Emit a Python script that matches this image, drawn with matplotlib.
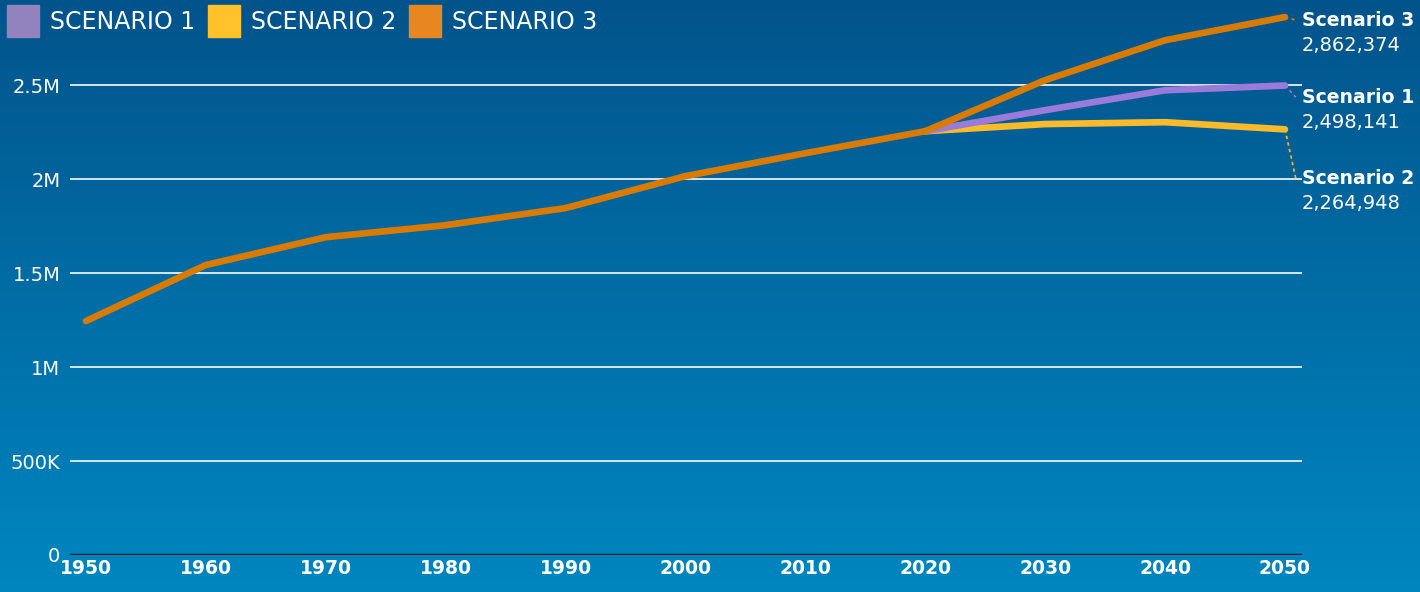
import matplotlib.pyplot as plt
import numpy as np
from matplotlib.patches import Rectangle
from matplotlib.colors import LinearSegmentedColormap

# --- Data --------------------------------------------------------------------
years_hist = [1950, 1960, 1970, 1980, 1990, 2000, 2010, 2020]
pop_hist = [1245000, 1543000, 1691000, 1755000, 1846000, 2016000, 2138000, 2255000]

years_proj = [2020, 2030, 2040, 2050]
scenario1 = [2255000, 2367000, 2473000, 2498141]
scenario2 = [2255000, 2293000, 2303000, 2264948]
scenario3 = [2255000, 2527000, 2739000, 2862374]

series_names = ["Scenario 1", "Scenario 2", "Scenario 3"]
legend_names = ["SCENARIO 1", "SCENARIO 2", "SCENARIO 3"]
line_colors = ["#9B7BD9", "#FBBA2A", "#D97B00"]
legend_colors = ["#9283BE", "#FFC22A", "#E8861F"]

y_ticks = [0, 500000, 1000000, 1500000, 2000000, 2500000]
y_tick_labels = ["0", "500K", "1M", "1.5M", "2M", "2.5M"]
x_ticks = list(range(1950, 2051, 10))

plt.rcParams['font.family'] = ['DejaVu Sans']

# --- Figure ------------------------------------------------------------------
fig = plt.figure(figsize=(14.2, 5.92), dpi=100)

# gradient background
bg = fig.add_axes([0, 0, 1, 1], zorder=0)
cmap = LinearSegmentedColormap.from_list("bg", ["#02548B", "#0086C0"])
bg.imshow(np.linspace(0, 1, 256).reshape(-1, 1), aspect='auto', cmap=cmap,
          extent=[0, 1, 0, 1], origin='upper')
bg.axis('off')

ax = fig.add_axes([70 / 1420, 37 / 592, 1232 / 1420, 545 / 592], zorder=1)
ax.patch.set_alpha(0)
ax.set_xlim(1948.67, 2051.42)
ax.set_ylim(0, 2900000)

for s in ax.spines.values():
    s.set_visible(False)

for yt in y_ticks[1:]:
    ax.axhline(yt, color='white', lw=1.3, alpha=0.9, zorder=1)
ax.axhline(0, color='#1a1a1a', lw=2.4, zorder=2)

ax.set_yticks(y_ticks)
ax.set_yticklabels(y_tick_labels, color='white', fontsize=14)
ax.set_xticks(x_ticks)
ax.set_xticklabels([str(x) for x in x_ticks], color='white', fontsize=13.5,
                   fontweight='bold')
ax.tick_params(axis='both', length=0, pad=3)
ax.tick_params(axis='y', pad=7)

# projection lines, scenario 3 on top
for vals, c, z in [(scenario2, line_colors[1], 3), (scenario1, line_colors[0], 4),
                   (scenario3, line_colors[2], 5)]:
    ax.plot(years_proj, vals, color=c, lw=4.8, solid_capstyle='round',
            solid_joinstyle='round', zorder=z, clip_on=False)
ax.plot(years_hist, pop_hist, color=line_colors[2], lw=4.8, solid_capstyle='round',
        solid_joinstyle='round', zorder=6, clip_on=False)

# end labels (name centre, value centre 25 px lower)
end_vals = [scenario1[-1], scenario2[-1], scenario3[-1]]
label_y = [2436000, 2005000, 2846000]
for name, v, ly, c in zip(series_names, end_vals, label_y, line_colors):
    ax.plot([2050, 2050.9], [v, ly], color=c, lw=1.2, ls=(0, (2, 2)),
            zorder=3, clip_on=False)
    ax.text(2051.4, ly, name, color='white', fontsize=13.6, fontweight='bold',
            ha='left', va='center', clip_on=False)
    ax.text(2051.4, ly - 133000, f"{v:,}", color='white', fontsize=14,
            ha='left', va='center', clip_on=False)

# legend
lx = 7
for name, c in zip(legend_names, legend_colors):
    fig.patches.append(Rectangle((lx / 1420, 1 - 37 / 592), 32 / 1420, 32 / 592,
                                 transform=fig.transFigure, color=c, zorder=3))
    t = fig.text((lx + 43) / 1420, 1 - 22 / 592, name, color='white', fontsize=17,
                 va='center', ha='left', zorder=3)
    fig.canvas.draw()
    bb = t.get_window_extent()
    lx = bb.x1 + 13

fig.savefig("out.png", dpi=100)
